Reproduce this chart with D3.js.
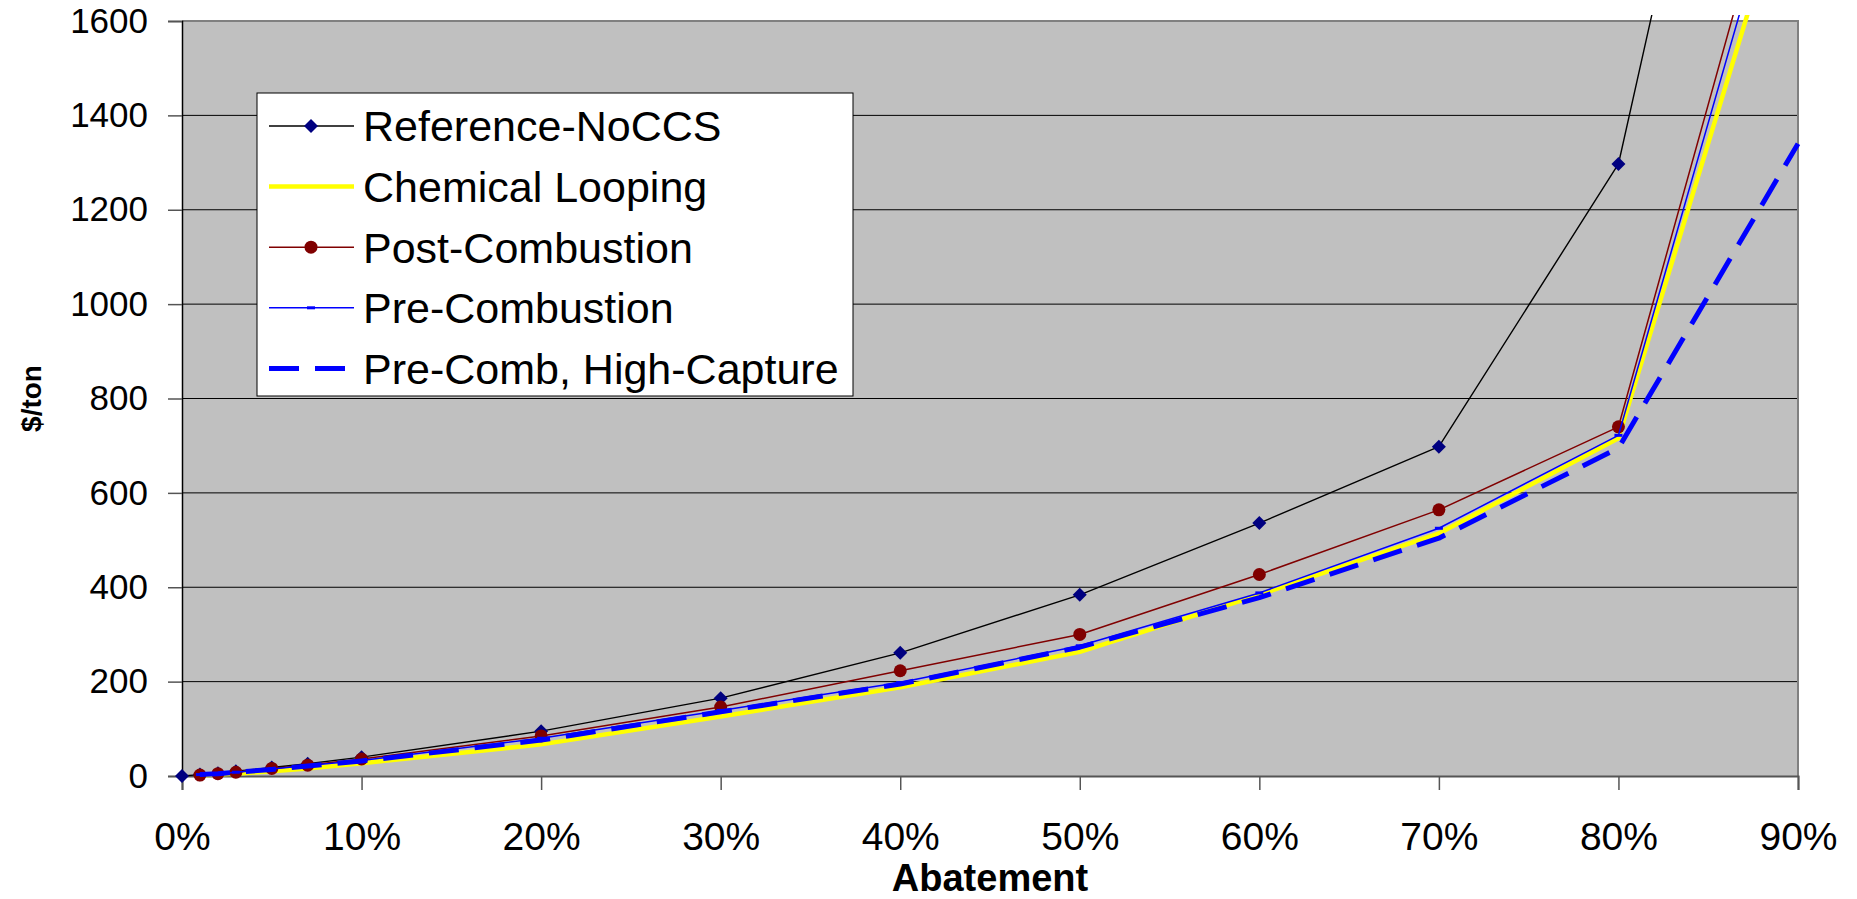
<!DOCTYPE html>
<html>
<head>
<meta charset="utf-8">
<script src="https://cdn.jsdelivr.net/npm/d3@7"></script>
<style>
  html, body { margin: 0; padding: 0; background: #ffffff; }
  svg { display: block; font-family: "Liberation Sans", Arial, sans-serif; }
</style>
</head>
<body>
<svg id="chart" width="1857" height="899"></svg>
<script>
// Abatement levels (fraction of emissions removed)
const abatementRef = [0, 0.01, 0.02, 0.03, 0.05, 0.07, 0.10, 0.20, 0.30, 0.40, 0.50, 0.60, 0.70, 0.80, 0.90];
const abatementCCS = [0.01, 0.02, 0.03, 0.05, 0.07, 0.10, 0.20, 0.30, 0.40, 0.50, 0.60, 0.70, 0.80, 0.90];

// Carbon price ($/ton) needed for each abatement level
const referenceNoCCS     = [0, 3, 6, 10, 18, 26, 40, 95, 165, 261, 384, 536, 698, 1297, 2997];
const chemicalLooping    = [1, 3, 5, 10, 16, 27, 67, 126, 188, 263, 384, 514, 716, 1966];
const postCombustion     = [2, 5, 8, 16, 23, 36, 85, 146, 223, 300, 427, 564, 740, 2106];
const preCombustion      = [3, 5, 8, 15, 22, 33, 80, 139, 198, 276, 388, 525, 722, 2046];
const preCombHighCapture = [3, 5, 8, 14, 21, 32, 76, 136, 195, 273, 378, 504, 695, 1340];

const xTicks = [0, 0.1, 0.2, 0.3, 0.4, 0.5, 0.6, 0.7, 0.8, 0.9];
const yTicks = [0, 200, 400, 600, 800, 1000, 1200, 1400, 1600];

const seriesNames = ["Reference-NoCCS", "Chemical Looping", "Post-Combustion", "Pre-Combustion", "Pre-Comb, High-Capture"];

const series = [
  { name: seriesNames[0], xs: abatementRef, ys: referenceNoCCS,     color: "#000000", width: 1.4, dash: null,    marker: "diamond" },
  { name: seriesNames[1], xs: abatementCCS, ys: chemicalLooping,    color: "#FFFF00", width: 4.5, dash: null,    marker: null },
  { name: seriesNames[2], xs: abatementCCS, ys: postCombustion,     color: "#800000", width: 1.5, dash: null,    marker: "circle" },
  { name: seriesNames[3], xs: abatementCCS, ys: preCombustion,      color: "#0000FF", width: 1.5, dash: null,    marker: "bar" },
  { name: seriesNames[4], xs: abatementCCS, ys: preCombHighCapture, color: "#0000FF", width: 5,   dash: "30,16", marker: null }
];

const svg = d3.select("#chart");
const plot = { left: 182, right: 1798, top: 21, bottom: 776 };

const x = d3.scaleLinear().domain([0, 0.9]).range([plot.left, plot.right]);
const y = d3.scaleLinear().domain([0, 1600]).range([plot.bottom, plot.top]);

// Plot area background
svg.append("rect")
  .attr("x", plot.left).attr("y", plot.top)
  .attr("width", plot.right - plot.left).attr("height", plot.bottom - plot.top)
  .attr("fill", "#C0C0C0");

// Horizontal gridlines
svg.append("g")
  .selectAll("line")
  .data(yTicks.filter(d => d > 0 && d < 1600))
  .join("line")
  .attr("x1", plot.left).attr("x2", plot.right)
  .attr("y1", d => y(d)).attr("y2", d => y(d))
  .attr("stroke", "#000").attr("stroke-width", 1);

// Plot area frame (top and right)
svg.append("path")
  .attr("d", `M${plot.left},${plot.top}H${plot.right}V${plot.bottom}`)
  .attr("fill", "none").attr("stroke", "#808080").attr("stroke-width", 2);

// Y axis
const yAxis = svg.append("g")
  .attr("transform", `translate(${plot.left},0)`)
  .call(d3.axisLeft(y).tickValues(yTicks).tickSize(14).tickPadding(20).tickFormat(d3.format("d")));
yAxis.select(".domain").attr("stroke", "#000").attr("stroke-width", 1.5);
yAxis.selectAll(".tick line").attr("stroke", "#555").attr("stroke-width", 1.5);
yAxis.selectAll(".tick text")
  .attr("font-size", 35).attr("fill", "#000")
  .attr("font-family", "'Liberation Sans', Arial, sans-serif");

// X axis
const xAxis = svg.append("g")
  .attr("transform", `translate(0,${plot.bottom})`)
  .call(d3.axisBottom(x).tickValues(xTicks).tickSize(14).tickFormat(d3.format(".0%")));
xAxis.select(".domain").attr("stroke", "#555").attr("stroke-width", 2);
xAxis.selectAll(".tick line").attr("stroke", "#555").attr("stroke-width", 1.5);
xAxis.selectAll(".tick text")
  .attr("font-size", 39).attr("fill", "#000")
  .attr("y", 74).attr("dy", 0)
  .attr("font-family", "'Liberation Sans', Arial, sans-serif");

// Axis titles
svg.append("text")
  .attr("x", (plot.left + plot.right) / 2).attr("y", 891)
  .attr("text-anchor", "middle")
  .attr("font-size", 38).attr("font-weight", "bold")
  .text("Abatement");

svg.append("text")
  .attr("transform", `translate(41,${(plot.top + plot.bottom) / 2}) rotate(-90)`)
  .attr("text-anchor", "middle")
  .attr("font-size", 28).attr("font-weight", "bold")
  .text("$/ton");

// Lines may run past the top of the value axis; cut them just above the frame
svg.append("clipPath").attr("id", "clip")
  .append("rect").attr("x", 0).attr("y", 15).attr("width", 1857).attr("height", 884);

const lineGen = d3.line().x(d => x(d[0])).y(d => y(d[1]));

function drawMarker(g, kind, color) {
  if (kind === "diamond") {
    g.append("path").attr("d", "M0,-7L7,0L0,7L-7,0Z").attr("fill", "#000080");
  } else if (kind === "circle") {
    g.append("circle").attr("r", 6.5).attr("fill", "#800000");
  } else if (kind === "bar") {
    g.append("rect").attr("x", -4).attr("y", -1.5).attr("width", 8).attr("height", 3).attr("fill", color);
  }
}

const dataLayer = svg.append("g").attr("clip-path", "url(#clip)");
series.forEach(s => {
  const pts = s.xs.map((v, i) => [v, s.ys[i]]);
  const g = dataLayer.append("g");
  g.append("path")
    .datum(pts)
    .attr("d", lineGen)
    .attr("fill", "none")
    .attr("stroke", s.color)
    .attr("stroke-width", s.width)
    .attr("stroke-dasharray", s.dash)
    .attr("stroke-linejoin", "round");
  if (s.marker) {
    pts.filter(p => p[1] <= 1600).forEach(p => {
      const m = g.append("g").attr("transform", `translate(${x(p[0])},${y(p[1])})`);
      drawMarker(m, s.marker, s.color);
    });
  }
});

// Legend
const legend = svg.append("g");
legend.append("rect")
  .attr("x", 257).attr("y", 93).attr("width", 596).attr("height", 303)
  .attr("fill", "#fff").attr("stroke", "#000").attr("stroke-width", 1);

series.forEach((s, i) => {
  const cy = 126 + i * 60.6;
  legend.append("line")
    .attr("x1", 269).attr("x2", 354)
    .attr("y1", cy).attr("y2", cy)
    .attr("stroke", s.color)
    .attr("stroke-width", s.width)
    .attr("stroke-dasharray", s.dash);
  if (s.marker) {
    const m = legend.append("g").attr("transform", `translate(311,${cy})`);
    drawMarker(m, s.marker, s.color);
  }
  legend.append("text")
    .attr("x", 363).attr("y", cy).attr("dy", "0.36em")
    .attr("font-size", 43).attr("fill", "#000")
    .text(s.name);
});
</script>
</body>
</html>
